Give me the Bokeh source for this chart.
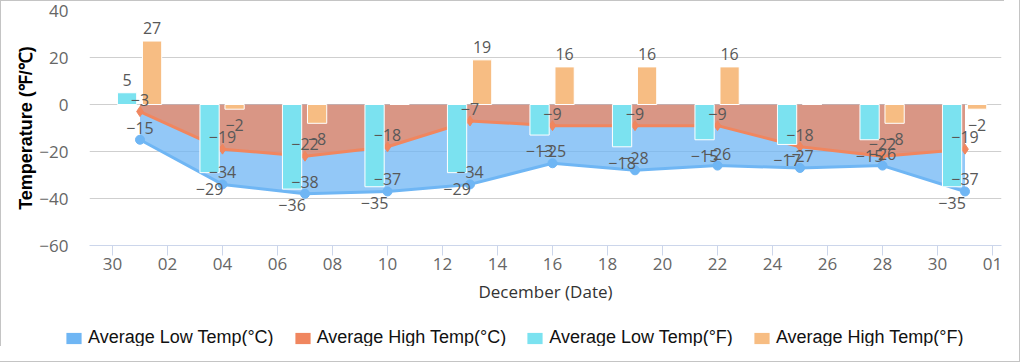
import pandas as pd
from bokeh.plotting import figure
from bokeh.layouts import column
from bokeh.models import (ColumnDataSource, Range1d, FixedTicker, DatetimeTickFormatter,
                          Legend, LegendItem)
from bokeh.transform import dodge
from bokeh.core.properties import value
from bokeh.embed import file_html
from bokeh.resources import INLINE

# ---------------- data ----------------
dates = ["2023-12-01", "2023-12-04", "2023-12-07", "2023-12-10", "2023-12-13", "2023-12-16",
         "2023-12-19", "2023-12-22", "2023-12-25", "2023-12-28", "2023-12-31"]
low_c = [-15, -34, -38, -37, -34, -25, -28, -26, -27, -26, -37]
high_c = [-3, -19, -22, -18, -7, -9, -9, -9, -18, -22, -19]
low_f = [5, -29, -36, -35, -29, -13, -18, -15, -17, -15, -35]
high_f = [27, -2, -8, 0, 19, 16, 16, 16, 0, -8, -2]

series_names = ["Average Low Temp(°C)", "Average High Temp(°C)",
                "Average Low Temp(°F)", "Average High Temp(°F)"]

x_tick_dates = ["2023-11-30", "2023-12-02", "2023-12-04", "2023-12-06", "2023-12-08",
                "2023-12-10", "2023-12-12", "2023-12-14", "2023-12-16", "2023-12-18",
                "2023-12-20", "2023-12-22", "2023-12-24", "2023-12-26", "2023-12-28",
                "2023-12-30", "2024-01-01"]
y_ticks = [-60, -40, -20, 0, 20, 40]
y_tick_labels = ["\u221260", "\u221240", "\u221220", "0", "20", "40"]

x_title = "December (Date)"
y_title = "Temperature (\u2109/\u2103)"

# ---------------- style ----------------
C_LOW_C = "#6fb6f4"
C_HIGH_C = "#f0865f"
C_LOW_F = "#7be2f0"
C_HIGH_F = "#f7bd83"
DAY = 86400000.0
LABEL_FONT = value("Open Sans")


def fmt(v):
    return str(v).replace("-", "\u2212")


x_dt = pd.to_datetime(dates)
x_start = pd.Timestamp("2023-11-30") - pd.Timedelta(hours=0.836 * 24)
x_end = pd.Timestamp("2024-01-01") + pd.Timedelta(hours=0.327 * 24)

p = figure(width=1004, height=310, x_axis_type="datetime",
           x_range=Range1d(x_start, x_end), y_range=Range1d(-60, 40),
           min_border_left=89, min_border_right=3, min_border_top=10, min_border_bottom=65,
           output_backend="svg", toolbar_location=None, title=None)
p.frame_align = False
p.outline_line_color = None
p.background_fill_color = "white"
p.border_fill_color = None

# grid
p.xgrid.visible = False
p.ygrid.ticker = FixedTicker(ticks=y_ticks)
p.ygrid.grid_line_color = "#cfcfcf"

# x axis
xa = p.xaxis[0]
xa.ticker = FixedTicker(ticks=[pd.Timestamp(d).value / 1e6 for d in x_tick_dates])
xa.formatter = DatetimeTickFormatter(days="%d", months="%d", hours="%d")
xa.axis_line_color = "#ccd6eb"
xa.major_tick_line_color = "#ccd6eb"
xa.major_tick_out = 10
xa.major_tick_in = 0
xa.minor_tick_line_color = None
xa.major_label_text_font = "Open Sans"
xa.major_label_text_font_size = "17px"
xa.major_label_text_color = "#666666"
xa.major_label_standoff = 2
xa.axis_label = x_title
xa.axis_label_text_font = "Open Sans"
xa.axis_label_text_font_size = "17px"
xa.axis_label_text_font_style = "normal"
xa.axis_label_text_color = "#333333"
xa.axis_label_standoff = 7

# y axis
ya = p.yaxis[0]
ya.ticker = FixedTicker(ticks=y_ticks)
ya.major_label_overrides = dict(zip(y_ticks, y_tick_labels))
ya.axis_line_color = None
ya.major_tick_line_color = None
ya.minor_tick_line_color = None
ya.major_label_text_font = "Open Sans"
ya.major_label_text_font_size = "17px"
ya.major_label_text_color = "#666666"
ya.major_label_standoff = 15
ya.axis_label = y_title
ya.axis_label_text_font = "Liberation Sans"
ya.axis_label_text_font_size = "18px"
ya.axis_label_text_font_style = "bold"
ya.axis_label_text_color = "#000000"
ya.axis_label_standoff = 0

src = ColumnDataSource(dict(x=x_dt, low_c=low_c, high_c=high_c, low_f=low_f, high_f=high_f))

# areas
p.varea(x="x", y1=0, y2="low_c", source=src, fill_color=C_LOW_C, fill_alpha=0.75)
p.varea(x="x", y1=0, y2="high_c", source=src, fill_color=C_HIGH_C, fill_alpha=0.75)
p.line("x", "high_c", source=src, line_color=C_HIGH_C, line_width=3)
p.line("x", "low_c", source=src, line_color=C_LOW_C, line_width=3)
p.scatter("x", "high_c", source=src, marker="diamond", size=10, color=C_HIGH_C)
p.scatter("x", "low_c", source=src, marker="circle", size=9, color=C_LOW_C)

# bars
OFF_L = -0.47 * DAY
OFF_H = 0.44 * DAY
BW = 0.70 * DAY
p.vbar(x=dodge("x", OFF_L), top="low_f", bottom=0, width=BW, source=src,
       fill_color=C_LOW_F, line_color="white", line_width=1)
p.vbar(x=dodge("x", OFF_H), top="high_f", bottom=0, width=BW, source=src,
       fill_color=C_HIGH_F, line_color="white", line_width=1)

# data labels
for col in (low_c, high_c):
    s = ColumnDataSource(dict(x=x_dt, y=col, t=[fmt(v) for v in col]))
    p.text("x", "y", text="t", source=s, text_align="center", text_baseline="middle",
           y_offset=-12, text_font=LABEL_FONT, text_font_size="16px", text_color="#585858")

for col, off in ((low_f, OFF_L), (high_f, OFF_H)):
    xs = [d for d, v in zip(x_dt, col) if v != 0]
    ys = [v for v in col if v != 0]
    s = ColumnDataSource(dict(x=xs, y=ys, t=[fmt(v) for v in ys],
                              yo=[-13 if v > 0 else 16 for v in ys]))
    p.text(dodge("x", off), "y", text="t", source=s, text_align="center",
           text_baseline="middle", y_offset="yo", text_font=LABEL_FONT,
           text_font_size="16px", text_color="#585858")

# legend (own strip below the chart)
lf = figure(width=1004, height=36, x_range=Range1d(0, 1), y_range=Range1d(0, 1),
            x_axis_location=None, y_axis_location=None, min_border=0,
            output_backend="svg", toolbar_location=None, title=None)
lf.frame_align = False
lf.grid.visible = False
lf.outline_line_color = None
lf.background_fill_color = None
lf.border_fill_color = None
dummies = []
for c in (C_LOW_C, C_HIGH_C, C_LOW_F, C_HIGH_F):
    dummies.append(lf.rect(x=[-5], y=[-5], width=1, height=1, fill_color=c, line_color=None))
legend = Legend(items=[LegendItem(label=n, renderers=[r]) for n, r in zip(series_names, dummies)],
                orientation="horizontal", location=(64, -2),
                glyph_width=19, glyph_height=14, label_standoff=5, spacing=19,
                padding=0, margin=0, border_line_color=None, background_fill_alpha=0,
                label_text_font="Liberation Sans", label_text_font_size="18px",
                label_text_color="#111111")
lf.add_layout(legend, "center")

layout = column(p, lf, spacing=0)
layout.styles = {"outline": "1px solid #c4c4c4", "outline-offset": "15px",
                 "box-shadow": "inset 1px 1px 0 0 #c4c4c4"}

open("out.html", "w").write(file_html(layout, INLINE))
